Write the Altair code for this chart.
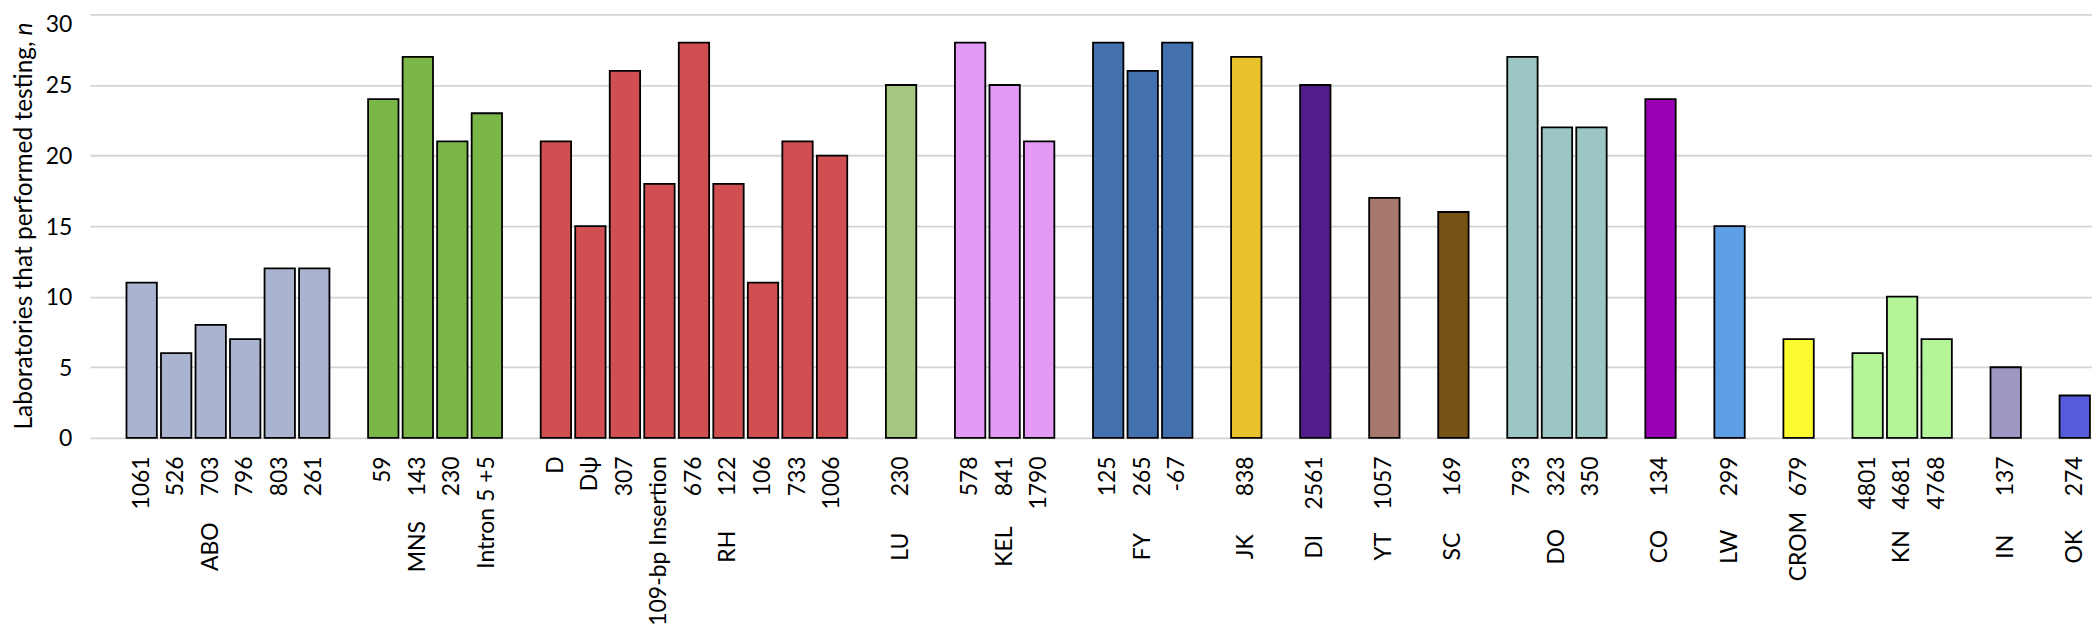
import altair as alt
import pandas as pd

groups = ["ABO", "MNS", "RH", "LU", "KEL", "FY", "JK", "DI", "YT", "SC",
          "DO", "CO", "LW", "CROM", "KN", "IN", "OK"]
variants = [
    ["1061", "526", "703", "796", "803", "261"],
    ["59", "143", "230", "Intron 5 +5"],
    ["D", "Dψ", "307", "109-bp Insertion", "676", "122", "106", "733", "1006"],
    ["230"],
    ["578", "841", "1790"],
    ["125", "265", "-67"],
    ["838"],
    ["2561"],
    ["1057"],
    ["169"],
    ["793", "323", "350"],
    ["134"],
    ["299"],
    ["679"],
    ["4801", "4681", "4768"],
    ["137"],
    ["274"],
]
values = [
    [11, 6, 8, 7, 12, 12],
    [24, 27, 21, 23],
    [21, 15, 26, 18, 28, 18, 11, 21, 20],
    [25],
    [28, 25, 21],
    [28, 26, 28],
    [27],
    [25],
    [17],
    [16],
    [27, 22, 22],
    [24],
    [15],
    [7],
    [6, 10, 7],
    [5],
    [3],
]
colors = ["#aab3cf", "#7ab648", "#d05052", "#a5c77f", "#e39af6", "#4371ae",
          "#e8c22c", "#521c8c", "#a8776e", "#765214", "#9cc6c3", "#9900b3",
          "#5e9ee6", "#fbfb2f", "#b6f49a", "#9d98c2", "#555bdb"]
# which variant (index within group) the group name sits under
group_label_at = [2, 1, 5, 0, 1, 1, 0, 0, 0, 0, 1, 0, 0, 0, 1, 0, 0]

domain = []
bar_rows = []
group_rows = []
for gi, g in enumerate(groups):
    domain.append(f"{gi:02d}gap")
    keys = []
    for vi, (lab, val) in enumerate(zip(variants[gi], values[gi])):
        k = f"{gi:02d}{vi:02d}|{lab}"
        keys.append(k)
        domain.append(k)
        bar_rows.append({"key": k, "group": g, "variant": lab, "n": val,
                         "color": colors[gi]})
    group_rows.append({"key": keys[group_label_at[gi]], "group": g})

bars_df = pd.DataFrame(bar_rows)
groups_df = pd.DataFrame(group_rows)

W, H = 2005, 424
FONT = "Lato"
FS = 23

xscale = alt.Scale(domain=domain, paddingInner=0.12, paddingOuter=0.06)

bars = alt.Chart(bars_df).mark_bar(stroke="black", strokeWidth=1.8).encode(
    x=alt.X("key:N", scale=xscale, sort=None,
            axis=alt.Axis(title=None, labelAngle=270, labelAlign="right",
                          labelBaseline="middle", labelPadding=18,
                          labelOverlap=False, labelLimit=0, ticks=False,
                          domain=False, grid=False, labelFontSize=FS,
                          labelColor="black", labelFont=FONT,
                          labelExpr="indexof(datum.value, '|') >= 0 ? split(datum.value, '|')[1] : ''")),
    y=alt.Y("n:Q", scale=alt.Scale(domain=[0, 30], nice=False),
            axis=alt.Axis(title=None, values=[0, 5, 10, 15, 20, 25, 30],
                          ticks=False, domain=False, labelPadding=18,
                          labelOffset=alt.condition("datum.value == 30",
                                                    alt.value(10), alt.value(1)),
                          grid=True,
                          labelFontSize=FS, labelColor="black", labelFont=FONT,
                          gridColor="#d4d4d4", gridWidth=1.8)),
    fill=alt.Fill("color:N", scale=None),
)

group_labels = alt.Chart(groups_df).mark_text(
    angle=270, align="center", baseline="middle", fontSize=FS, font=FONT,
    color="black"
).encode(
    x=alt.X("key:N", scale=xscale, sort=None),
    y=alt.value(533),
    text="group:N",
)

title_df = pd.DataFrame({"a": ["Laboratories that performed testing,"],
                         "b": ["n"]})
title_main = alt.Chart(title_df).mark_text(
    angle=270, align="right", baseline="alphabetic", fontSize=24.5, font=FONT,
    color="black"
).encode(x=alt.value(-58), y=alt.value(27), text="a:N")
title_n = alt.Chart(title_df).mark_text(
    angle=270, align="left", baseline="alphabetic", fontSize=24.5, font=FONT,
    color="black", fontStyle="italic"
).encode(x=alt.value(-58), y=alt.value(21), text="b:N")

chart = alt.layer(bars, group_labels, title_main, title_n).properties(
    width=W, height=H,
    autosize=alt.AutoSizeParams(type="none"),
    padding={"left": 82, "top": 6, "right": 0, "bottom": 192},
).configure_view(stroke=None)

chart.save("out.html", embed_options={"renderer": "svg", "actions": False})
